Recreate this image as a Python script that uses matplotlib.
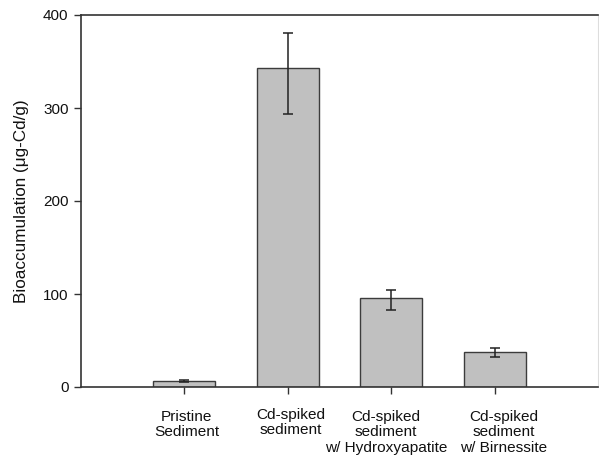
import matplotlib
matplotlib.use("Agg")
import matplotlib.pyplot as plt
import matplotlib.transforms as mtransforms
import numpy as np

plt.rcParams['font.family'] = ['Liberation Sans', 'DejaVu Sans']
plt.rcParams['font.size'] = 11

# Cd bioaccumulation per treatment
treatments = ['Pristine\nSediment',
              'Cd-spiked\nsediment',
              'Cd-spiked\nsediment\nw/ Hydroxyapatite',
              'Cd-spiked\nsediment\nw/ Birnessite']
bioaccum = [6.5, 342.5, 95.5, 37.8]
err_low = [0.6, 49.0, 12.3, 5.8]
err_high = [0.6, 38.0, 8.6, 3.8]

y_ticks = [0, 100, 200, 300, 400]

# small hand nudges (pixels) for the category labels
label_dx = [2, 3, -5, 9]
label_dy = [0, 2, 0, 0]

fig = plt.figure(figsize=(5.99, 4.59), dpi=100)
ax = fig.add_axes([81 / 599, 1 - 387 / 459, 517 / 599, 372 / 459])

x = np.arange(1, len(treatments) + 1)
ax.bar(x, bioaccum, width=0.6, color='#c0c0c0', edgecolor='#3c3c3c',
       linewidth=1.0, zorder=2)
ax.errorbar(x, bioaccum, yerr=[err_low, err_high], fmt='none',
            ecolor='#222222', elinewidth=1.1, capsize=3.9, capthick=1.1,
            zorder=3)

ax.set_xlim(0, 5)
ax.set_ylim(0, 400)
ax.set_yticks(y_ticks)
ax.set_xticks(x)
ax.set_xticklabels([])

base = mtransforms.blended_transform_factory(ax.transData, ax.transAxes)
for xi, name, dx, dy in zip(x, treatments, label_dx, label_dy):
    off = mtransforms.ScaledTranslation(dx / 100, (dy - 23) / 100,
                                        fig.dpi_scale_trans)
    ax.text(xi, 0, name, transform=base + off, ha='center', va='top',
            multialignment='center', linespacing=1.12, fontsize=11.1,
            color='#111111')

ax.tick_params(axis='y', direction='out', length=5, width=1, pad=4,
               color='#333333', labelcolor='#111111', labelsize=11)
ax.tick_params(axis='x', direction='out', length=5, width=1,
               color='#333333')

for side in ['left', 'bottom', 'top']:
    ax.spines[side].set_color('#333333')
    ax.spines[side].set_linewidth(1.2)
ax.spines['right'].set_color('#dddddd')

ax.set_ylabel('Bioaccumulation (\u03bcg-Cd/g)', fontsize=12.3, color='#111111')
ax.yaxis.set_label_coords(-0.1, 0.5)

fig.savefig('out.png', dpi=100, facecolor='white')
